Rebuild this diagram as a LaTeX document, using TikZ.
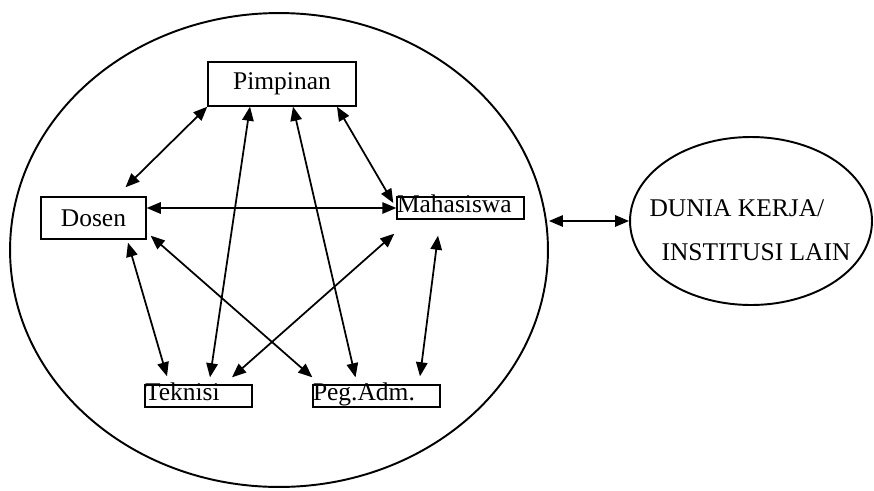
\documentclass[tikz,border=0pt]{standalone}
\usepackage{fontspec}
\setmainfont{Liberation Serif}
\usetikzlibrary{arrows.meta,shapes.geometric}

\begin{document}
\begin{tikzpicture}[x=0.02cm, y=-0.02cm,
  font=\fontsize{14.5}{17}\selectfont,
  box/.style={draw, line width=0.8pt, inner sep=0pt},
  tag/.style={box, text width=#1, align=left, text height=9pt, text depth=3.5pt},
  oval/.style={draw, ellipse, line width=1.1pt, inner sep=0pt},
  link/.style={{Triangle[length=8pt,width=6.5pt]}-{Triangle[length=8pt,width=6.5pt]}, line width=1pt}]

\useasboundingbox (0,0) rectangle (874,490);

\node[oval, minimum width=10.76cm, minimum height=9.48cm] (kampus) at (279,250) {};
\node[oval, minimum width=4.84cm, minimum height=3.36cm] (dunia) at (751,221) {};
\node[align=left] (duniateks) at (750,230) {DUNIA KERJA/\\[8pt]\hspace*{0.24cm}INSTITUSI LAIN};

\node[box, minimum width=2.96cm, minimum height=0.88cm] (pimpinan) at (282,84) {Pimpinan};
\node[box, minimum width=2.1cm, minimum height=0.84cm] (dosen) at (93.5,218) {Dosen};
\node[tag=2.54cm] (mhs) at (460.5,208) {Mahasiswa};
\node[tag=2.14cm] (teknisi) at (198.5,396) {Teknisi};
\node[tag=2.54cm] (adm) at (376.5,396) {Peg.Adm.};

\draw[link] (pimpinan.south west) -- ([shift={(32,-9)}]dosen.north);
\draw[link] ([shift={(-32,0)}]pimpinan.south) -- ([shift={(11.5,-7)}]teknisi.north);
\draw[link] ([shift={(11,0)}]pimpinan.south) -- ([shift={(-21,-7)}]adm.north);
\draw[link] ([shift={(55,0)}]pimpinan.south) -- ([shift={(-3,-5)}]mhs.west);
\draw[link] (dosen.east |- mhs.west) -- (mhs.west);
\draw[link] ([shift={(34.5,3)}]dosen.south) -- ([shift={(-31.5,-8)}]teknisi.north);
\draw[link] ([shift={(4,-4)}]dosen.south east) -- ([shift={(0,-7)}]adm.north west);
\draw[link] ([shift={(-2,14)}]mhs.south west) -- ([shift={(33.5,-7)}]teknisi.north);
\draw[link] ([shift={(-22.5,16)}]mhs.south) -- ([shift={(43.5,-8)}]adm.north);

\draw[link] (kampus.east |- dunia.west) -- (dunia.west);
\end{tikzpicture}
\end{document}
